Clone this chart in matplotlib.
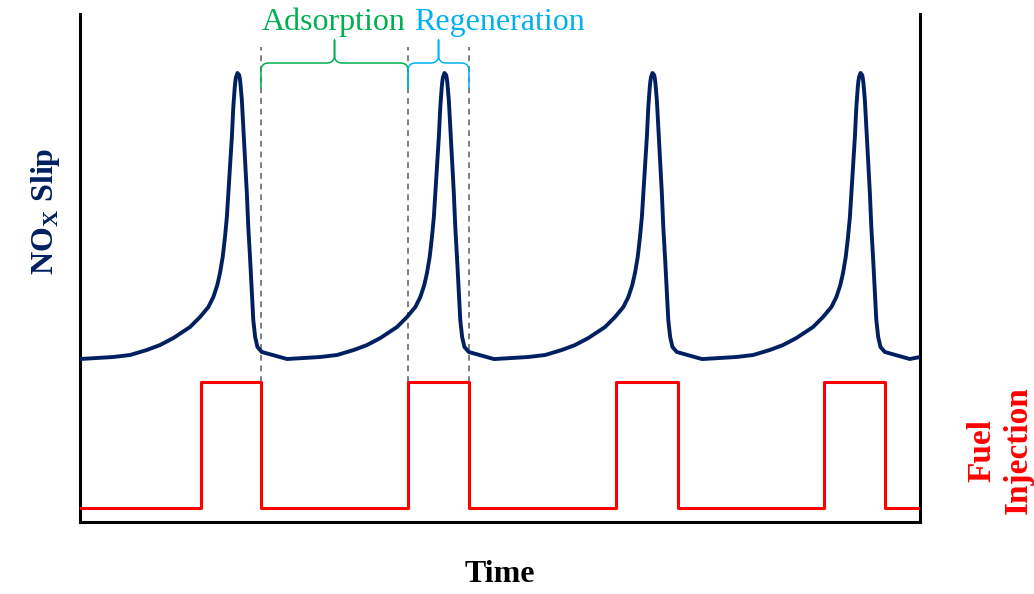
import matplotlib
matplotlib.use("Agg")
import matplotlib.pyplot as plt
import numpy as np

# time in arbitrary units, signals in arbitrary units
inj_start = [5.82, 15.77, 25.77, 35.77]
inj_end = [8.70, 18.70, 28.75, 38.70]
fuel_low = 0.14
fuel_high = 1.40
t_end = 40.38

# one NOx cycle, time relative to the start of fuel injection
nox_dt = [-5.82, -5.05, -4.22, -3.41, -2.61, -1.97, -1.33, -0.53, -0.05, 0.35,
          0.59, 0.78, 0.91, 1.04, 1.15, 1.24, 1.31, 1.39, 1.48, 1.55,
          1.62, 1.65, 1.68, 1.75, 1.83, 1.86, 1.89, 1.96, 2.03, 2.12,
          2.20, 2.27, 2.36, 2.44, 2.51, 2.60, 2.71, 2.92, 4.12]
nox_val = [1.63, 1.64, 1.65, 1.67, 1.72, 1.77, 1.84, 1.95, 2.05, 2.15,
           2.25, 2.37, 2.49, 2.65, 2.85, 3.05, 3.29, 3.55, 3.85, 4.15,
           4.35, 4.41, 4.45, 4.49, 4.47, 4.44, 4.39, 4.22, 3.95, 3.62,
           3.29, 2.95, 2.62, 2.29, 2.02, 1.85, 1.75, 1.70, 1.63]
nox_tail = (40.38, 1.65)

navy = '#002060'
red = '#FF0000'
green = '#00B050'
blue = '#00B0F0'
serif = ['Liberation Serif', 'DejaVu Serif']


def qbez(p0, p1, p2, n=12):
	s = np.linspace(0, 1, n)[:, None]
	p0, p1, p2 = np.array(p0), np.array(p1), np.array(p2)
	pts = (1 - s) ** 2 * p0 + 2 * (1 - s) * s * p1 + s ** 2 * p2
	return pts


def brace(ax, x0, x1, y_base, y_end, y_tip, color, rx=0.38, ry=0.08):
	"""curly brace opening downwards"""
	xm = (x0 + x1) / 2
	rx = min(rx, (x1 - x0) / 4)
	parts = [
		np.array([[x0, y_end]]),
		qbez((x0, y_base - ry), (x0, y_base), (x0 + rx, y_base)),
		qbez((xm - rx, y_base), (xm, y_base), (xm, y_base + ry)),
		np.array([[xm, y_tip]]),
		qbez((xm, y_base + ry), (xm, y_base), (xm + rx, y_base)),
		qbez((x1 - rx, y_base), (x1, y_base), (x1, y_base - ry)),
		np.array([[x1, y_end]]),
	]
	pts = np.vstack(parts)
	ax.plot(pts[:, 0], pts[:, 1], color=color, lw=1.1, clip_on=False,
	        solid_joinstyle='round')


fig = plt.figure(figsize=(10.34, 5.94), dpi=100)
ax = fig.add_axes([80 / 1034, 72 / 594, 840 / 1034, 508 / 594])

# NOx slip curve
tx, ty = [], []
for t0 in inj_start:
	tx += [t0 + d for d in nox_dt]
	ty += nox_val
tx.append(nox_tail[0])
ty.append(nox_tail[1])
ax.plot(tx, ty, color=navy, lw=2.8, solid_joinstyle='round', zorder=3)

# fuel injection pulses
fx, fy = [0], [fuel_low]
for s, e in zip(inj_start, inj_end):
	fx += [s, s, e, e]
	fy += [fuel_low, fuel_high, fuel_high, fuel_low]
fx.append(t_end)
fy.append(fuel_low)
ax.plot(fx, fy, color=red, lw=2.2, zorder=3)

# dashed markers for one adsorption / regeneration cycle
marks = [inj_end[0], inj_start[1], inj_end[1]]
ax.vlines(marks, fuel_high, 4.75, colors='#7f7f7f', linestyles=(0, (3, 2.5)), lw=1.4, zorder=2)

brace(ax, inj_end[0], inj_start[1], 4.59, 4.34, 4.82, green)
brace(ax, inj_start[1], inj_end[1], 4.59, 4.34, 4.82, blue)
ax.text(inj_end[0] + 0.03, 4.92, 'Adsorption', color=green, fontsize=23,
        family=serif, ha='left', va='baseline')
ax.text(inj_start[1] + 0.3, 4.92, 'Regeneration', color=blue, fontsize=23,
        family=serif, ha='left', va='baseline')

ax.set_xlim(0, t_end)
ax.set_ylim(0, 5.08)
ax.set_xticks([])
ax.set_yticks([])
ax.spines['top'].set_visible(False)
for s in ['left', 'right', 'bottom']:
	ax.spines[s].set_linewidth(2.2)
	ax.spines[s].set_color('black')

fig.text(45 / 1034, 1 - 211 / 594, r'NO$_\mathregular{X}$ Slip', rotation=90,
         ha='center', va='center', fontsize=23, fontweight='bold', color=navy, family=serif)
fig.text(1000 / 1034, 1 - 450 / 594, 'Fuel\nInjection', rotation=90, ha='center', va='center',
         multialignment='center', fontsize=24, fontweight='bold', color=red, family=serif,
         linespacing=1.2)
fig.text(500 / 1034, 1 - 575 / 594, 'Time', ha='center', va='center', fontsize=23,
         fontweight='bold', color='black', family=serif)

fig.savefig('out.png', dpi=100)
